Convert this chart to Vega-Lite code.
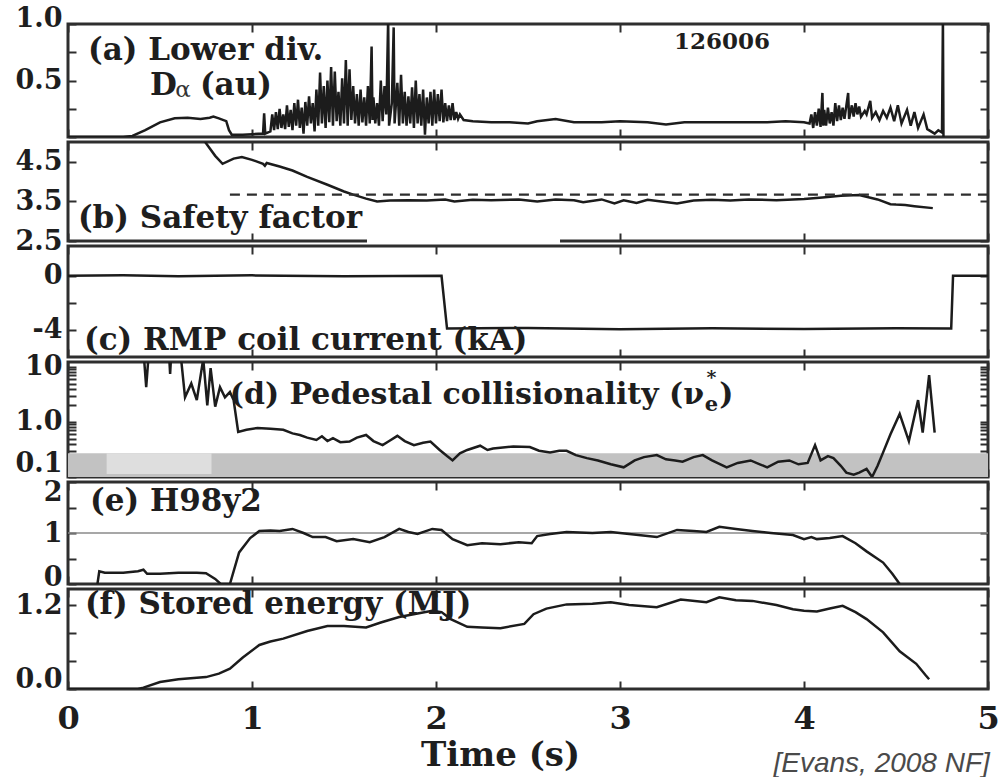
{
  "$schema": "https://vega.github.io/schema/vega-lite/v6.json",
  "background": "white",
  "padding": {"left": 13, "top": 2, "right": 2, "bottom": 0},
  "bounds": "flush",
  "spacing": 5,
  "config": {
    "view": {"stroke": "#2e2e2e", "strokeWidth": 3},
    "axis": {
      "domain": false, "grid": false, "ticks": true,
      "tickColor": "#2e2e2e", "tickWidth": 2,
      "labelFont": "DejaVu Serif", "labelFontWeight": "bold", "labelFontSize": 27, "labelColor": "#1e1e1e"
    },
    "line": {"color": "#1c1c1c", "strokeWidth": 2.5}
  },
  "datasets": {
    "one": [{}],
    "da": [
      {"t":0,"v":0},{"t":0.3,"v":0},{"t":0.35,"v":0.01},{"t":0.42,"v":0.06},{"t":0.5,"v":0.13},{"t":0.58,"v":0.165},{"t":0.65,"v":0.17},{"t":0.72,"v":0.16},{"t":0.77,"v":0.17},{"t":0.79,"v":0.18},{"t":0.82,"v":0.165},{"t":0.86,"v":0.14},{"t":0.875,"v":0.06},{"t":0.89,"v":0.02},{"t":0.95,"v":0.02},{"t":1.0,"v":0.025},{"t":1.06,"v":0.03},{"t":1.066,"v":0.21},{"t":1.072,"v":0.03},{"t":1.1,"v":0.05},
      {"t":1.11,"v":0.2},{"t":1.12,"v":0.06},{"t":1.13,"v":0.22},{"t":1.14,"v":0.07},{"t":1.15,"v":0.25},{"t":1.16,"v":0.08},{"t":1.17,"v":0.2},{"t":1.18,"v":0.07},{"t":1.19,"v":0.28},{"t":1.2,"v":0.09},{"t":1.21,"v":0.24},{"t":1.22,"v":0.06},{"t":1.23,"v":0.3},{"t":1.24,"v":0.1},{"t":1.25,"v":0.33},{"t":1.26,"v":0.08},{"t":1.27,"v":0.26},{"t":1.28,"v":0.03},{"t":1.29,"v":0.31},{"t":1.3,"v":0.1},
      {"t":1.31,"v":0.36},{"t":1.32,"v":0.12},{"t":1.33,"v":0.3},{"t":1.34,"v":0.05},{"t":1.35,"v":0.42},{"t":1.36,"v":0.1},{"t":1.37,"v":0.57},{"t":1.38,"v":0.12},{"t":1.39,"v":0.45},{"t":1.4,"v":0.08},{"t":1.41,"v":0.5},{"t":1.42,"v":0.13},{"t":1.43,"v":0.62},{"t":1.44,"v":0.1},{"t":1.45,"v":0.58},{"t":1.46,"v":0.14},{"t":1.47,"v":0.4},{"t":1.48,"v":0.1},{"t":1.49,"v":0.52},{"t":1.5,"v":0.12},
      {"t":1.51,"v":0.68},{"t":1.52,"v":0.1},{"t":1.53,"v":0.6},{"t":1.54,"v":0.15},{"t":1.55,"v":0.45},{"t":1.56,"v":0.12},{"t":1.57,"v":0.38},{"t":1.58,"v":0.1},{"t":1.59,"v":0.42},{"t":1.6,"v":0.13},{"t":1.61,"v":0.35},{"t":1.62,"v":0.1},{"t":1.63,"v":0.45},{"t":1.64,"v":0.12},{"t":1.65,"v":0.8},{"t":1.655,"v":0.15},{"t":1.66,"v":0.35},{"t":1.67,"v":0.12},{"t":1.68,"v":0.3},{"t":1.69,"v":0.1},
      {"t":1.7,"v":0.5},{"t":1.71,"v":0.14},{"t":1.72,"v":0.45},{"t":1.73,"v":0.2},{"t":1.74,"v":1.05},{"t":1.745,"v":0.1},{"t":1.76,"v":0.3},{"t":1.77,"v":0.97},{"t":1.775,"v":0.12},{"t":1.79,"v":0.48},{"t":1.8,"v":0.1},{"t":1.81,"v":0.55},{"t":1.82,"v":0.12},{"t":1.83,"v":0.4},{"t":1.84,"v":0.1},{"t":1.85,"v":0.36},{"t":1.86,"v":0.12},{"t":1.87,"v":0.44},{"t":1.88,"v":0.08},{"t":1.89,"v":0.5},
      {"t":1.9,"v":0.12},{"t":1.91,"v":0.38},{"t":1.92,"v":0.1},{"t":1.93,"v":0.42},{"t":1.94,"v":0.02},{"t":1.95,"v":0.35},{"t":1.96,"v":0.12},{"t":1.97,"v":0.4},{"t":1.98,"v":0.1},{"t":1.99,"v":0.42},{"t":2.0,"v":0.12},{"t":2.01,"v":0.38},{"t":2.02,"v":0.14},{"t":2.03,"v":0.42},{"t":2.04,"v":0.13},{"t":2.05,"v":0.3},{"t":2.06,"v":0.14},{"t":2.07,"v":0.28},{"t":2.08,"v":0.15},{"t":2.09,"v":0.3},
      {"t":2.1,"v":0.15},{"t":2.11,"v":0.22},{"t":2.12,"v":0.16},{"t":2.13,"v":0.2},{"t":2.15,"v":0.15},{"t":2.2,"v":0.14},{"t":2.3,"v":0.13},{"t":2.4,"v":0.13},{"t":2.5,"v":0.12},{"t":2.55,"v":0.14},{"t":2.65,"v":0.16},{"t":2.75,"v":0.13},{"t":2.9,"v":0.13},{"t":3.0,"v":0.14},{"t":3.15,"v":0.13},{"t":3.25,"v":0.11},{"t":3.35,"v":0.13},{"t":3.6,"v":0.13},{"t":3.8,"v":0.13},{"t":3.9,"v":0.14},{"t":4.0,"v":0.13},{"t":4.03,"v":0.12},
      {"t":4.04,"v":0.2},{"t":4.05,"v":0.08},{"t":4.06,"v":0.22},{"t":4.07,"v":0.1},{"t":4.08,"v":0.25},{"t":4.09,"v":0.09},{"t":4.1,"v":0.39},{"t":4.105,"v":0.1},{"t":4.11,"v":0.24},{"t":4.12,"v":0.1},{"t":4.13,"v":0.26},{"t":4.14,"v":0.12},{"t":4.15,"v":0.22},{"t":4.16,"v":0.1},{"t":4.17,"v":0.3},{"t":4.18,"v":0.14},{"t":4.19,"v":0.28},{"t":4.2,"v":0.15},{"t":4.21,"v":0.26},{"t":4.22,"v":0.16},
      {"t":4.24,"v":0.39},{"t":4.245,"v":0.16},{"t":4.26,"v":0.28},{"t":4.27,"v":0.18},{"t":4.28,"v":0.3},{"t":4.29,"v":0.2},{"t":4.3,"v":0.27},{"t":4.31,"v":0.18},{"t":4.33,"v":0.23},{"t":4.34,"v":0.2},{"t":4.36,"v":0.32},{"t":4.37,"v":0.17},{"t":4.39,"v":0.22},{"t":4.41,"v":0.15},{"t":4.43,"v":0.23},{"t":4.45,"v":0.17},{"t":4.47,"v":0.26},{"t":4.49,"v":0.14},{"t":4.51,"v":0.28},{"t":4.53,"v":0.12},
      {"t":4.56,"v":0.24},{"t":4.58,"v":0.1},{"t":4.6,"v":0.22},{"t":4.62,"v":0.08},{"t":4.65,"v":0.2},{"t":4.67,"v":0.07},{"t":4.69,"v":0.05},{"t":4.71,"v":0.03},{"t":4.73,"v":0.06},{"t":4.75,"v":0.04},{"t":4.755,"v":1.05},{"t":4.758,"v":0}
    ],
    "q": [
      {"t":0.72,"v":5.3},{"t":0.745,"v":5.0},{"t":0.8,"v":4.65},{"t":0.84,"v":4.45},{"t":0.9,"v":4.58},{"t":0.945,"v":4.62},{"t":1.0,"v":4.55},{"t":1.06,"v":4.45},{"t":1.07,"v":4.4},{"t":1.08,"v":4.47},{"t":1.15,"v":4.38},{"t":1.22,"v":4.28},{"t":1.3,"v":4.12},{"t":1.41,"v":3.92},{"t":1.5,"v":3.75},{"t":1.55,"v":3.67},{"t":1.62,"v":3.57},{"t":1.68,"v":3.5},{"t":1.75,"v":3.52},{"t":1.85,"v":3.53},{"t":1.95,"v":3.52},{"t":2.05,"v":3.55},{"t":2.1,"v":3.5},{"t":2.2,"v":3.54},{"t":2.3,"v":3.53},{"t":2.45,"v":3.55},{"t":2.55,"v":3.5},{"t":2.65,"v":3.55},{"t":2.75,"v":3.53},{"t":2.8,"v":3.48},{"t":2.9,"v":3.55},{"t":2.97,"v":3.45},{"t":3.02,"v":3.53},{"t":3.09,"v":3.46},{"t":3.15,"v":3.54},{"t":3.31,"v":3.45},{"t":3.4,"v":3.52},{"t":3.5,"v":3.54},{"t":3.6,"v":3.52},{"t":3.7,"v":3.55},{"t":3.85,"v":3.53},{"t":4.0,"v":3.56},{"t":4.1,"v":3.6},{"t":4.2,"v":3.64},{"t":4.3,"v":3.66},{"t":4.4,"v":3.55},{"t":4.47,"v":3.43},{"t":4.5,"v":3.42},{"t":4.55,"v":3.41},{"t":4.6,"v":3.38},{"t":4.7,"v":3.33}
    ],
    "rmp": [
      {"t":0,"v":0},{"t":0.3,"v":0.03},{"t":0.6,"v":-0.03},{"t":1.0,"v":0.03},{"t":1.5,"v":-0.03},{"t":2.03,"v":0},{"t":2.06,"v":-3.9},{"t":2.5,"v":-3.85},{"t":3.0,"v":-3.95},{"t":3.5,"v":-3.88},{"t":4.0,"v":-3.93},{"t":4.5,"v":-3.88},{"t":4.8,"v":-3.9},{"t":4.81,"v":0},{"t":5,"v":0}
    ],
    "nu": [
      {"t":0.41,"v":20},{"t":0.425,"v":4.3},{"t":0.44,"v":20},{"t":0.548,"v":20},{"t":0.555,"v":7.5},{"t":0.562,"v":20},{"t":0.61,"v":20},{"t":0.636,"v":2.8},{"t":0.67,"v":5},{"t":0.7,"v":2.5},{"t":0.735,"v":14},{"t":0.757,"v":2.0},{"t":0.775,"v":9.5},{"t":0.8,"v":1.9},{"t":0.826,"v":4.3},{"t":0.853,"v":2.8},{"t":0.88,"v":3.5},{"t":0.9,"v":2.5},{"t":0.925,"v":0.66},
      {"t":0.97,"v":0.72},{"t":1.03,"v":0.78},{"t":1.1,"v":0.75},{"t":1.17,"v":0.72},{"t":1.22,"v":0.62},{"t":1.26,"v":0.58},{"t":1.3,"v":0.52},{"t":1.35,"v":0.47},{"t":1.38,"v":0.55},{"t":1.41,"v":0.45},{"t":1.44,"v":0.51},{"t":1.48,"v":0.43},{"t":1.53,"v":0.44},{"t":1.57,"v":0.52},{"t":1.62,"v":0.58},{"t":1.66,"v":0.45},{"t":1.71,"v":0.38},{"t":1.75,"v":0.46},{"t":1.79,"v":0.56},{"t":1.83,"v":0.45},{"t":1.88,"v":0.38},{"t":1.93,"v":0.42},{"t":1.97,"v":0.44},
      {"t":2.02,"v":0.31},{"t":2.06,"v":0.24},{"t":2.09,"v":0.2},{"t":2.13,"v":0.27},{"t":2.17,"v":0.31},{"t":2.24,"v":0.37},{"t":2.28,"v":0.31},{"t":2.31,"v":0.33},{"t":2.35,"v":0.34},{"t":2.42,"v":0.36},{"t":2.51,"v":0.35},{"t":2.56,"v":0.3},{"t":2.62,"v":0.28},{"t":2.67,"v":0.3},{"t":2.71,"v":0.3},{"t":2.76,"v":0.25},{"t":2.82,"v":0.22},{"t":2.88,"v":0.2},{"t":2.95,"v":0.17},{"t":3.02,"v":0.15},
      {"t":3.08,"v":0.2},{"t":3.13,"v":0.23},{"t":3.2,"v":0.25},{"t":3.25,"v":0.21},{"t":3.3,"v":0.2},{"t":3.34,"v":0.19},{"t":3.4,"v":0.23},{"t":3.45,"v":0.25},{"t":3.5,"v":0.2},{"t":3.58,"v":0.15},{"t":3.64,"v":0.18},{"t":3.71,"v":0.2},{"t":3.76,"v":0.17},{"t":3.8,"v":0.15},{"t":3.86,"v":0.19},{"t":3.92,"v":0.2},{"t":3.97,"v":0.17},{"t":4.02,"v":0.18},{"t":4.06,"v":0.38},{"t":4.09,"v":0.2},
      {"t":4.13,"v":0.24},{"t":4.16,"v":0.22},{"t":4.2,"v":0.16},{"t":4.23,"v":0.12},{"t":4.27,"v":0.11},{"t":4.3,"v":0.12},{"t":4.34,"v":0.14},{"t":4.37,"v":0.1},{"t":4.4,"v":0.16},{"t":4.43,"v":0.28},{"t":4.47,"v":0.6},{"t":4.52,"v":1.4},{"t":4.57,"v":0.45},{"t":4.62,"v":2.5},{"t":4.645,"v":0.64},{"t":4.68,"v":7.1},{"t":4.71,"v":0.64}
    ],
    "h98": [
      {"t":0.16,"v":0},{"t":0.17,"v":0.25},{"t":0.2,"v":0.22},{"t":0.3,"v":0.22},{"t":0.38,"v":0.25},{"t":0.41,"v":0.28},{"t":0.43,"v":0.2},{"t":0.5,"v":0.2},{"t":0.6,"v":0.22},{"t":0.7,"v":0.22},{"t":0.75,"v":0.21},{"t":0.8,"v":0.1},{"t":0.83,"v":0},{"t":0.88,"v":0},{"t":0.93,"v":0.62},{"t":0.99,"v":0.9},{"t":1.04,"v":1.04},{"t":1.1,"v":1.05},{"t":1.15,"v":1.04},{"t":1.22,"v":1.08},{"t":1.28,"v":1.0},{"t":1.33,"v":0.92},{"t":1.4,"v":0.92},{"t":1.46,"v":0.84},{"t":1.55,"v":0.88},{"t":1.64,"v":0.82},{"t":1.72,"v":0.92},{"t":1.8,"v":1.08},{"t":1.85,"v":1.02},{"t":1.9,"v":0.98},{"t":1.98,"v":1.08},{"t":2.03,"v":1.06},{"t":2.09,"v":0.88},{"t":2.17,"v":0.76},{"t":2.25,"v":0.8},{"t":2.35,"v":0.78},{"t":2.45,"v":0.82},{"t":2.52,"v":0.8},{"t":2.55,"v":0.94},{"t":2.62,"v":0.98},{"t":2.71,"v":1.02},{"t":2.85,"v":1.0},{"t":2.95,"v":1.02},{"t":3.05,"v":0.98},{"t":3.2,"v":0.92},{"t":3.31,"v":1.06},{"t":3.4,"v":1.04},{"t":3.47,"v":1.02},{"t":3.54,"v":1.12},{"t":3.63,"v":1.08},{"t":3.72,"v":1.04},{"t":3.82,"v":1.0},{"t":3.94,"v":0.96},{"t":4.0,"v":0.88},{"t":4.04,"v":0.92},{"t":4.07,"v":0.88},{"t":4.14,"v":0.9},{"t":4.21,"v":0.94},{"t":4.28,"v":0.8},{"t":4.34,"v":0.64},{"t":4.43,"v":0.42},{"t":4.48,"v":0.2},{"t":4.52,"v":0}
    ],
    "wmhd": [
      {"t":0,"v":0},{"t":0.38,"v":0},{"t":0.41,"v":0.02},{"t":0.5,"v":0.1},{"t":0.6,"v":0.14},{"t":0.75,"v":0.17},{"t":0.82,"v":0.22},{"t":0.88,"v":0.29},{"t":0.95,"v":0.45},{"t":1.04,"v":0.63},{"t":1.1,"v":0.68},{"t":1.17,"v":0.72},{"t":1.3,"v":0.83},{"t":1.41,"v":0.9},{"t":1.5,"v":0.9},{"t":1.62,"v":0.88},{"t":1.7,"v":0.95},{"t":1.8,"v":1.03},{"t":1.9,"v":1.08},{"t":1.98,"v":1.12},{"t":2.03,"v":1.1},{"t":2.08,"v":1.0},{"t":2.17,"v":0.89},{"t":2.25,"v":0.88},{"t":2.35,"v":0.87},{"t":2.48,"v":0.93},{"t":2.53,"v":1.07},{"t":2.6,"v":1.15},{"t":2.71,"v":1.21},{"t":2.85,"v":1.22},{"t":2.95,"v":1.24},{"t":3.05,"v":1.2},{"t":3.2,"v":1.17},{"t":3.33,"v":1.28},{"t":3.47,"v":1.24},{"t":3.54,"v":1.31},{"t":3.63,"v":1.27},{"t":3.72,"v":1.26},{"t":3.85,"v":1.2},{"t":3.94,"v":1.14},{"t":4.0,"v":1.12},{"t":4.07,"v":1.11},{"t":4.14,"v":1.15},{"t":4.21,"v":1.19},{"t":4.28,"v":1.1},{"t":4.34,"v":1.0},{"t":4.43,"v":0.81},{"t":4.52,"v":0.54},{"t":4.61,"v":0.36},{"t":4.66,"v":0.2},{"t":4.68,"v":0.14}
    ]
  },
  "vconcat": [
    {
      "width": 920, "height": 113,
      "layer": [
        {"data": {"name": "da"}, "mark": {"type": "line", "clip": true},
         "encoding": {
           "x": {"field": "t", "type": "quantitative", "scale": {"domain": [0, 5]}, "axis": {"orient": "bottom", "values": [0,1,2,3,4,5], "labels": false, "tickSize": -8, "title": null}},
           "y": {"field": "v", "type": "quantitative", "scale": {"domain": [0, 1]}, "axis": {"orient": "left", "values": [0,0.25,0.5,0.75,1], "labelExpr": "datum.value == 1 ? '1.0' : datum.value == 0.5 ? '0.5' : ''", "labelOffset": {"condition": {"test": "datum.value == 1", "value": -6}, "value": 0}, "tickSize": -8, "labelPadding": 14, "title": null}}
         }},
        {"data": {"name": "da"}, "mark": {"type": "line", "opacity": 0},
         "encoding": {
           "x": {"field": "t", "type": "quantitative", "scale": {"domain": [0, 5]}, "axis": {"orient": "top", "values": [0,1,2,3,4,5], "labels": false, "tickSize": -8, "title": null}},
           "y": {"field": "v", "type": "quantitative", "scale": {"domain": [0, 1]}, "axis": {"orient": "right", "values": [0,0.25,0.5,0.75,1], "labels": false, "tickSize": -8, "title": null}}
         }},
        {"data": {"name": "one"}, "mark": {"type": "text", "text": "(a) Lower div.", "align": "left", "baseline": "middle", "font": "DejaVu Serif", "fontWeight": "bold", "fontSize": 31, "color": "#1e1e1e"},
         "encoding": {"x": {"datum": 0.109, "scale": {"domain": [0, 5]}, "axis": null}, "y": {"datum": 0.76, "scale": {"domain": [0, 1]}, "axis": null}}},
        {"data": {"name": "one"}, "mark": {"type": "text", "text": "D", "align": "left", "baseline": "middle", "font": "DejaVu Serif", "fontWeight": "bold", "fontSize": 31, "color": "#1e1e1e"},
         "encoding": {"x": {"datum": 0.446, "scale": {"domain": [0, 5]}, "axis": null}, "y": {"datum": 0.45, "scale": {"domain": [0, 1]}, "axis": null}}},
        {"data": {"name": "one"}, "mark": {"type": "text", "text": "α", "align": "left", "baseline": "middle", "font": "DejaVu Serif", "fontWeight": "normal", "fontSize": 23, "color": "#333333"},
         "encoding": {"x": {"datum": 0.583, "scale": {"domain": [0, 5]}, "axis": null}, "y": {"datum": 0.42, "scale": {"domain": [0, 1]}, "axis": null}}},
        {"data": {"name": "one"}, "mark": {"type": "text", "text": "(au)", "align": "left", "baseline": "middle", "font": "DejaVu Serif", "fontWeight": "bold", "fontSize": 31, "color": "#1e1e1e"},
         "encoding": {"x": {"datum": 0.717, "scale": {"domain": [0, 5]}, "axis": null}, "y": {"datum": 0.45, "scale": {"domain": [0, 1]}, "axis": null}}},
        {"data": {"name": "one"}, "mark": {"type": "text", "text": "126006", "align": "center", "baseline": "middle", "font": "DejaVu Serif", "fontWeight": "bold", "fontSize": 23, "color": "#1e1e1e"},
         "encoding": {"x": {"datum": 3.554, "scale": {"domain": [0, 5]}, "axis": null}, "y": {"datum": 0.84, "scale": {"domain": [0, 1]}, "axis": null}}}
      ],
      "resolve": {"axis": {"x": "independent", "y": "independent"}}
    },
    {
      "width": 920, "height": 99,
      "layer": [
        {"data": {"name": "q"}, "mark": {"type": "line", "clip": true},
         "encoding": {
           "x": {"field": "t", "type": "quantitative", "scale": {"domain": [0, 5]}, "axis": {"orient": "bottom", "values": [0,1,2,3,4,5], "labels": false, "tickSize": -8, "title": null}},
           "y": {"field": "v", "type": "quantitative", "scale": {"domain": [2.5, 5]}, "axis": {"orient": "left", "values": [2.5,3.5,4.5], "format": ".1f", "tickSize": -8, "labelPadding": 14, "title": null}}
         }},
        {"data": {"name": "q"}, "mark": {"type": "line", "opacity": 0},
         "encoding": {
           "x": {"field": "t", "type": "quantitative", "scale": {"domain": [0, 5]}, "axis": {"orient": "top", "values": [0,1,2,3,4,5], "labels": false, "tickSize": -8, "title": null}},
           "y": {"field": "v", "type": "quantitative", "scale": {"domain": [2.5, 5]}, "axis": {"orient": "right", "values": [2.5,3.5,4.5], "labels": false, "tickSize": -8, "title": null}}
         }},
        {"data": {"name": "one"}, "mark": {"type": "rule", "color": "#2e2e2e", "strokeWidth": 2.2, "strokeDash": [10, 7]},
         "encoding": {"x": {"datum": 0.88, "scale": {"domain": [0, 5]}, "axis": null}, "x2": {"datum": 5}, "y": {"datum": 3.67, "scale": {"domain": [2.5, 5]}, "axis": null}}},
        {"data": {"name": "one"}, "mark": {"type": "rect", "color": "white", "opacity": 1},
         "encoding": {"x": {"datum": 1.625, "scale": {"domain": [0, 5]}, "axis": null}, "x2": {"datum": 2.674}, "y": {"datum": 2.42, "scale": {"domain": [2.5, 5]}, "axis": null}, "y2": {"datum": 3.42}}},
        {"data": {"name": "one"}, "mark": {"type": "text", "text": "(b) Safety factor", "align": "left", "baseline": "middle", "font": "DejaVu Serif", "fontWeight": "bold", "fontSize": 31, "color": "#1e1e1e"},
         "encoding": {"x": {"datum": 0.054, "scale": {"domain": [0, 5]}, "axis": null}, "y": {"datum": 3.05, "scale": {"domain": [2.5, 5]}, "axis": null}}}
      ],
      "resolve": {"axis": {"x": "independent", "y": "independent"}}
    },
    {
      "width": 920, "height": 111,
      "layer": [
        {"data": {"name": "rmp"}, "mark": {"type": "line", "clip": true},
         "encoding": {
           "x": {"field": "t", "type": "quantitative", "scale": {"domain": [0, 5]}, "axis": {"orient": "bottom", "values": [0,1,2,3,4,5], "labels": false, "tickSize": -8, "title": null}},
           "y": {"field": "v", "type": "quantitative", "scale": {"domain": [-6, 2.2]}, "axis": {"orient": "left", "values": [-4,-2,0], "labelExpr": "datum.value == 0 ? '0' : datum.value == -4 ? '-4' : ''", "tickSize": -8, "labelPadding": 14, "title": null}}
         }},
        {"data": {"name": "rmp"}, "mark": {"type": "line", "opacity": 0},
         "encoding": {
           "x": {"field": "t", "type": "quantitative", "scale": {"domain": [0, 5]}, "axis": {"orient": "top", "values": [0,1,2,3,4,5], "labels": false, "tickSize": -8, "title": null}},
           "y": {"field": "v", "type": "quantitative", "scale": {"domain": [-6, 2.2]}, "axis": {"orient": "right", "values": [-4,-2,0], "labels": false, "tickSize": -8, "title": null}}
         }},
        {"data": {"name": "one"}, "mark": {"type": "text", "text": "(c) RMP coil current (kA)", "align": "left", "baseline": "middle", "font": "DejaVu Serif", "fontWeight": "bold", "fontSize": 31, "color": "#1e1e1e"},
         "encoding": {"x": {"datum": 0.087, "scale": {"domain": [0, 5]}, "axis": null}, "y": {"datum": -4.81, "scale": {"domain": [-6, 2.2]}, "axis": null}}}
      ],
      "resolve": {"axis": {"x": "independent", "y": "independent"}}
    },
    {
      "width": 920, "height": 115,
      "layer": [
        {"data": {"name": "one"}, "mark": {"type": "rect", "color": "#c2c2c2"},
         "encoding": {"x": {"datum": 0, "scale": {"domain": [0, 5]}, "axis": null}, "x2": {"datum": 5}, "y": {"datum": 0.1, "scale": {"type": "log", "domain": [0.1, 12.3]}, "axis": null}, "y2": {"datum": 0.27}}},
        {"data": {"name": "one"}, "mark": {"type": "rect", "color": "#dedede"},
         "encoding": {"x": {"datum": 0.21, "scale": {"domain": [0, 5]}, "axis": null}, "x2": {"datum": 0.78}, "y": {"datum": 0.113, "scale": {"type": "log", "domain": [0.1, 12.3]}, "axis": null}, "y2": {"datum": 0.27}}},
        {"data": {"name": "nu"}, "mark": {"type": "line", "clip": true},
         "encoding": {
           "x": {"field": "t", "type": "quantitative", "scale": {"domain": [0, 5]}, "axis": {"orient": "bottom", "values": [0,1,2,3,4,5], "labels": false, "tickSize": -8, "title": null}},
           "y": {"field": "v", "type": "quantitative", "scale": {"type": "log", "domain": [0.1, 12.3]}, "axis": {"orient": "left", "values": [0.1,0.2,0.3,0.4,0.5,0.6,0.7,0.8,0.9,1,2,3,4,5,6,7,8,9,10], "labelExpr": "datum.value == 10 ? '10' : datum.value == 1 ? '1.0' : datum.value == 0.1 ? '0.1' : ''", "labelFlush": true, "tickSize": -8, "labelPadding": 14, "title": null}}
         }},
        {"data": {"name": "nu"}, "mark": {"type": "line", "opacity": 0},
         "encoding": {
           "x": {"field": "t", "type": "quantitative", "scale": {"domain": [0, 5]}, "axis": {"orient": "top", "values": [0,1,2,3,4,5], "labels": false, "tickSize": -8, "title": null}},
           "y": {"field": "v", "type": "quantitative", "scale": {"type": "log", "domain": [0.1, 12.3]}, "axis": {"orient": "right", "values": [0.2,0.3,0.4,0.5,0.6,0.7,0.8,0.9,1,2,3,4,5,6,7,8,9,10], "labels": false, "tickSize": -8, "title": null}}
         }},
        {"data": {"name": "one"}, "mark": {"type": "text", "text": "(d) Pedestal collisionality (ν", "align": "right", "baseline": "middle", "font": "DejaVu Serif", "fontWeight": "bold", "fontSize": 30, "color": "#1e1e1e"},
         "encoding": {"x": {"datum": 3.457, "scale": {"domain": [0, 5]}, "axis": null}, "y": {"datum": 3.15, "scale": {"type": "log", "domain": [0.1, 12.3]}, "axis": null}}},
        {"data": {"name": "one"}, "mark": {"type": "text", "text": "*", "align": "center", "baseline": "middle", "font": "DejaVu Serif", "fontWeight": "bold", "fontSize": 19, "color": "#1e1e1e"},
         "encoding": {"x": {"datum": 3.497, "scale": {"domain": [0, 5]}, "axis": null}, "y": {"datum": 6.4, "scale": {"type": "log", "domain": [0.1, 12.3]}, "axis": null}}},
        {"data": {"name": "one"}, "mark": {"type": "text", "text": "e", "align": "center", "baseline": "middle", "font": "DejaVu Serif", "fontWeight": "bold", "fontSize": 21, "color": "#1e1e1e"},
         "encoding": {"x": {"datum": 3.497, "scale": {"domain": [0, 5]}, "axis": null}, "y": {"datum": 2.0, "scale": {"type": "log", "domain": [0.1, 12.3]}, "axis": null}}},
        {"data": {"name": "one"}, "mark": {"type": "text", "text": ")", "align": "left", "baseline": "middle", "font": "DejaVu Serif", "fontWeight": "bold", "fontSize": 30, "color": "#1e1e1e"},
         "encoding": {"x": {"datum": 3.54, "scale": {"domain": [0, 5]}, "axis": null}, "y": {"datum": 3.15, "scale": {"type": "log", "domain": [0.1, 12.3]}, "axis": null}}}
      ],
      "resolve": {"axis": {"x": "independent", "y": "independent"}}
    },
    {
      "width": 920, "height": 102,
      "layer": [
        {"data": {"name": "one"}, "mark": {"type": "rule", "color": "#8a8a8a", "strokeWidth": 1.6},
         "encoding": {"x": {"datum": 0, "scale": {"domain": [0, 5]}, "axis": null}, "x2": {"datum": 5}, "y": {"datum": 1, "scale": {"domain": [0, 2]}, "axis": null}}},
        {"data": {"name": "h98"}, "mark": {"type": "line", "clip": true},
         "encoding": {
           "x": {"field": "t", "type": "quantitative", "scale": {"domain": [0, 5]}, "axis": {"orient": "bottom", "values": [0,1,2,3,4,5], "labels": false, "tickSize": -8, "title": null}},
           "y": {"field": "v", "type": "quantitative", "scale": {"domain": [0, 2]}, "axis": {"orient": "left", "values": [0,0.5,1,1.5,2], "labelExpr": "datum.value == 0 ? '0' : datum.value == 1 ? '1' : datum.value == 2 ? '2' : ''", "labelOffset": {"condition": [{"test": "datum.value == 2", "value": 10}, {"test": "datum.value == 0", "value": -7}], "value": 0}, "tickSize": -8, "labelPadding": 14, "title": null}}
         }},
        {"data": {"name": "h98"}, "mark": {"type": "line", "opacity": 0},
         "encoding": {
           "x": {"field": "t", "type": "quantitative", "scale": {"domain": [0, 5]}, "axis": {"orient": "top", "values": [0,1,2,3,4,5], "labels": false, "tickSize": -8, "title": null}},
           "y": {"field": "v", "type": "quantitative", "scale": {"domain": [0, 2]}, "axis": {"orient": "right", "values": [0.5,1,1.5], "labels": false, "tickSize": -8, "title": null}}
         }},
        {"data": {"name": "one"}, "mark": {"type": "text", "text": "(e) H98y2", "align": "left", "baseline": "middle", "font": "DejaVu Serif", "fontWeight": "bold", "fontSize": 31, "color": "#1e1e1e"},
         "encoding": {"x": {"datum": 0.12, "scale": {"domain": [0, 5]}, "axis": null}, "y": {"datum": 1.6, "scale": {"domain": [0, 2]}, "axis": null}}}
      ],
      "resolve": {"axis": {"x": "independent", "y": "independent"}}
    },
    {
      "width": 920, "height": 100,
      "layer": [
        {"data": {"name": "wmhd"}, "mark": {"type": "line", "clip": true},
         "encoding": {
           "x": {"field": "t", "type": "quantitative", "scale": {"domain": [0, 5]}, "axis": {"orient": "bottom", "values": [0,1,2,3,4,5], "format": "d", "labelFlush": false, "labelFontSize": 32, "labelPadding": 22, "tickSize": -8, "title": "Time (s)", "titleFont": "DejaVu Serif", "titleFontWeight": "bold", "titleFontSize": 34, "titleColor": "#1e1e1e", "titlePadding": 4, "titleX": 432, "titleAlign": "center"}},
           "y": {"field": "v", "type": "quantitative", "scale": {"domain": [0, 1.43]}, "axis": {"orient": "left", "values": [0,0.4,0.8,1.2], "labelExpr": "datum.value == 0 ? '0.0' : datum.value == 1.2 ? '1.2' : ''", "labelOffset": {"condition": {"test": "datum.value == 0", "value": -10}, "value": 0}, "tickSize": -8, "labelPadding": 14, "title": null}}
         }},
        {"data": {"name": "wmhd"}, "mark": {"type": "line", "opacity": 0},
         "encoding": {
           "x": {"field": "t", "type": "quantitative", "scale": {"domain": [0, 5]}, "axis": {"orient": "top", "values": [0,1,2,3,4,5], "labels": false, "tickSize": -8, "title": null}},
           "y": {"field": "v", "type": "quantitative", "scale": {"domain": [0, 1.43]}, "axis": {"orient": "right", "values": [0.4,0.8,1.2], "labels": false, "tickSize": -8, "title": null}}
         }},
        {"data": {"name": "one"}, "mark": {"type": "text", "text": "(f) Stored energy (MJ)", "align": "left", "baseline": "middle", "font": "DejaVu Serif", "fontWeight": "bold", "fontSize": 31, "color": "#1e1e1e"},
         "encoding": {"x": {"datum": 0.092, "scale": {"domain": [0, 5]}, "axis": null}, "y": {"datum": 1.2, "scale": {"domain": [0, 1.43]}, "axis": null}}},
        {"data": {"name": "one"}, "mark": {"type": "text", "text": "[Evans, 2008 NF]", "align": "right", "baseline": "middle", "font": "Liberation Sans", "fontStyle": "italic", "fontWeight": "normal", "fontSize": 28, "color": "#4a4a4a"},
         "encoding": {"x": {"datum": 5.01, "scale": {"domain": [0, 5]}, "axis": null}, "y": {"datum": -1.07, "scale": {"domain": [0, 1.43]}, "axis": null}}}
      ],
      "resolve": {"axis": {"x": "independent", "y": "independent"}}
    }
  ]
}
